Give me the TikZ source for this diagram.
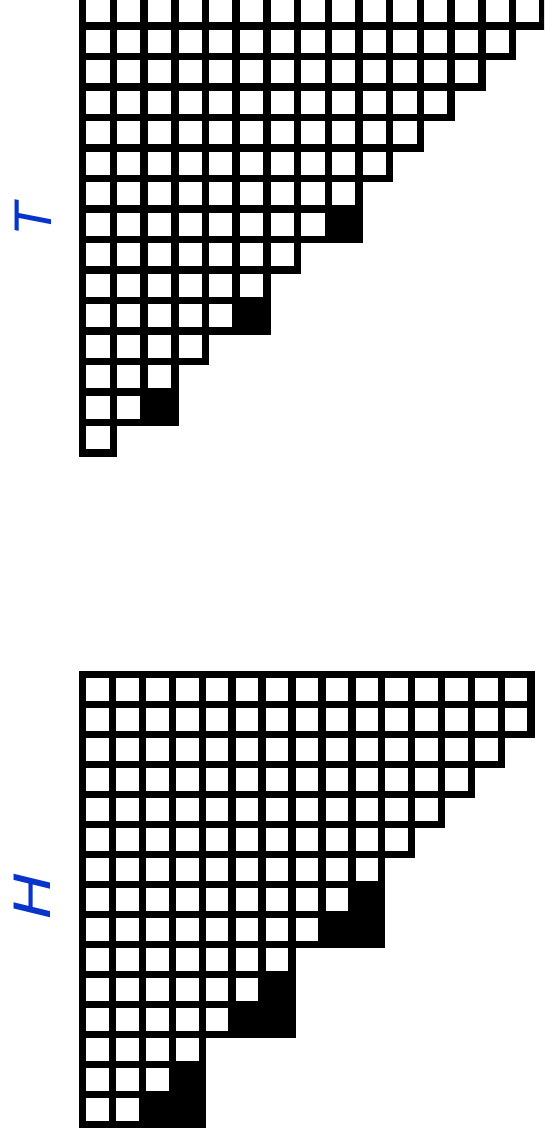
\documentclass[tikz,border=0pt]{standalone}
\usepackage{fontspec}
\newfontfamily\labelfont{DejaVu Sans}
\definecolor{labelblue}{RGB}{8,52,204}

\begin{document}
\begin{tikzpicture}[
  x=1pt, y=-1pt,
  cell/.style={draw=black, line width=7.5pt},
  blackcell/.style={cell, fill=black},
  lbl/.style={text=labelblue, font=\labelfont\itshape\fontsize{50}{60}\selectfont, rotate=90, inner sep=0pt},
  ]
  \useasboundingbox (0,0) rectangle (544,1140);
  \clip (0,0) rectangle (544,1140);
  \fill[white] (0,0) rectangle (544,1140);

  % upper staircase
  \begin{scope}[shift={(82.7,-4.6)}, x=30.7pt, y=-30.5pt]
    \foreach \len [count=\r from 0] in {15,14,13,12,11,10,9,9,7,6,6,4,3,3,1}
      \foreach \c in {1,...,\len}
        \draw[cell] (\c-1,\r) rectangle ++(1,1);
    \foreach \r/\c in {7/8,10/5,13/2}
      \draw[blackcell] (\c,\r) rectangle ++(1,1);
  \end{scope}

  % lower staircase
  \begin{scope}[shift={(82.7,674.4)}, x=29.9pt, y=-30pt]
    \foreach \len [count=\r from 0] in {15,15,14,13,12,11,10,10,10,7,7,7,4,4,4}
      \foreach \c in {1,...,\len}
        \draw[cell] (\c-1,\r) rectangle ++(1,1);
    \foreach \r/\c in {7/9,8/8,8/9,10/6,11/5,11/6,13/3,14/2,14/3}
      \draw[blackcell] (\c,\r) rectangle ++(1,1);
  \end{scope}

  \node[lbl] (tlabel) at (33,218) {T};
  \node[lbl, xscale=1.25] (hlabel) at (32,896) {H};
\end{tikzpicture}
\end{document}
